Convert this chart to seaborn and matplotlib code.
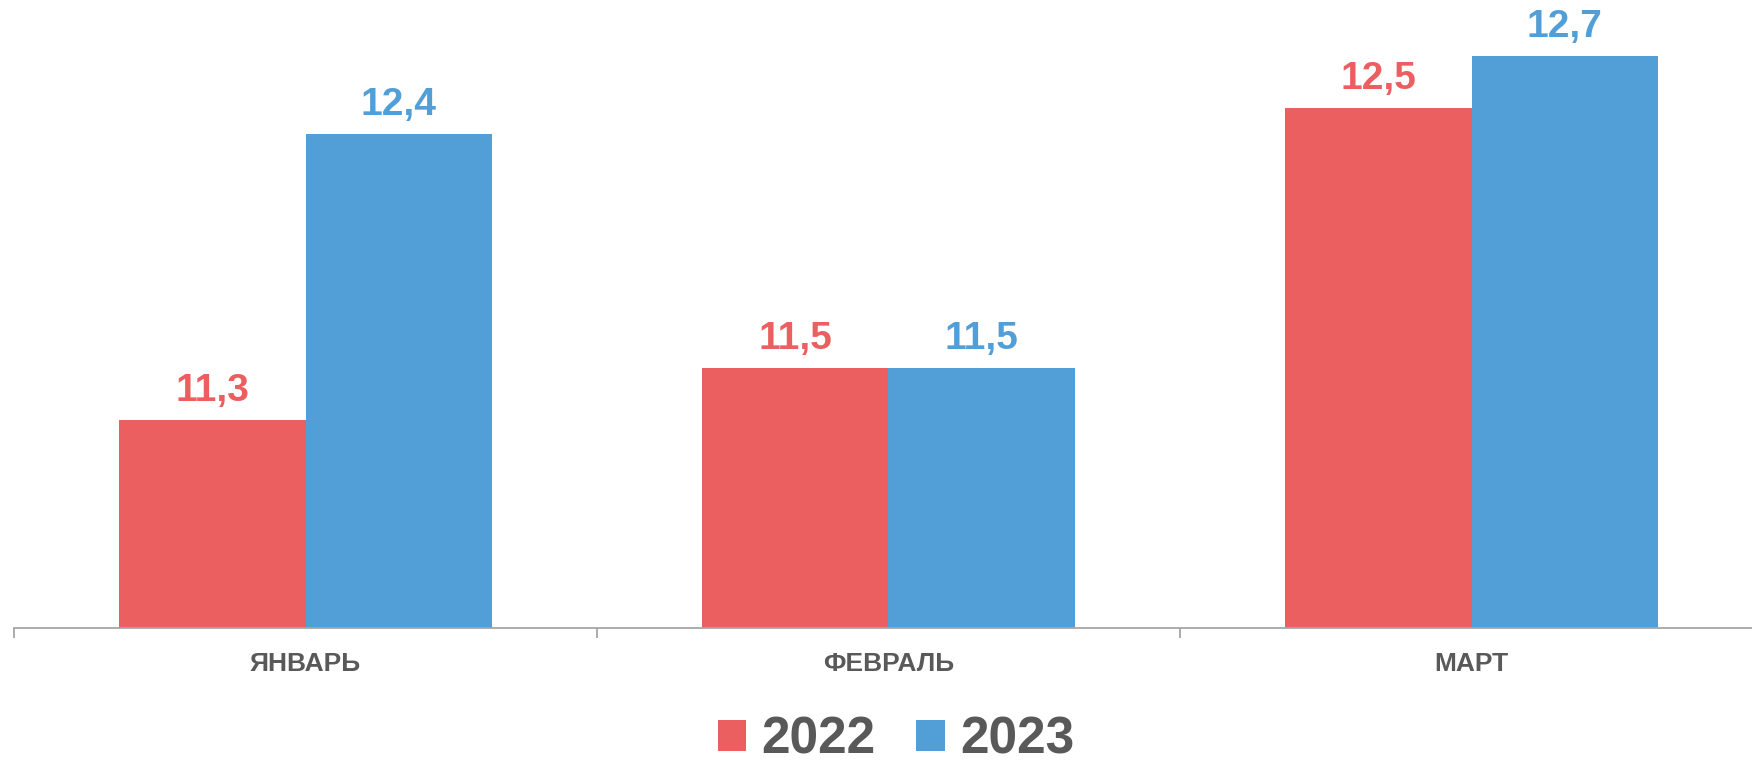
import pandas as pd
import seaborn as sns
import matplotlib.pyplot as plt
from matplotlib.patches import Patch

months = ['ЯНВАРЬ', 'ФЕВРАЛЬ', 'МАРТ']
years = ['2022', '2023']
values_2022 = [11.3, 11.5, 12.5]
values_2023 = [12.4, 11.5, 12.7]

df = pd.DataFrame({
    'month': months * 2,
    'year': [years[0]] * 3 + [years[1]] * 3,
    'value': values_2022 + values_2023,
})

palette = {'2022': '#EB5F61', '2023': '#529FD7'}
text_gray = '#595959'

sns.set_theme(style='white')
plt.rcParams['font.family'] = ['Liberation Sans', 'DejaVu Sans']

fig = plt.figure(figsize=(17.52, 7.64), dpi=100)
ax = fig.add_axes([14 / 1752, 136 / 764, 1749 / 1752, 628 / 764])

sns.barplot(data=df, x='month', y='value', hue='year', palette=palette,
            width=0.64, linewidth=0, saturation=1, legend=False, ax=ax)

ax.set_xlim(-0.5, 2.5)
ax.set_ylim(10.5, 10.5 + 628 / 260)

for cont, yr in zip(ax.containers, years):
    ax.bar_label(cont, labels=[f'{v:.1f}'.replace('.', ',') for v in cont.datavalues],
                 padding=8, fontsize=28, fontweight='bold', color=palette[yr])

for side in ['top', 'right', 'left']:
    ax.spines[side].set_visible(False)
ax.spines['bottom'].set_color('#A6A6A6')
ax.spines['bottom'].set_linewidth(1.3)
ax.set_yticks([])
ax.set_xlabel('')
ax.set_ylabel('')
ax.set_xticks([-0.5, 0.5, 1.5, 2.5], minor=True)
ax.tick_params(axis='x', which='minor', length=7, width=1.3, color='#A6A6A6', bottom=True)
ax.tick_params(axis='x', which='major', length=0, pad=17, labelsize=19, labelcolor=text_gray)
for lbl in ax.get_xticklabels():
    lbl.set_fontweight('bold')

handles = [Patch(facecolor=palette[y], edgecolor='none', label=y) for y in years]
fig.legend(handles=handles, loc='center', bbox_to_anchor=(896 / 1752, 1 - 740 / 764),
           ncol=2, frameon=False, handlelength=0.55, handleheight=0.55,
           handletextpad=0.3, columnspacing=0.8,
           prop={'size': 37, 'weight': 'bold'}, labelcolor=text_gray)

fig.savefig('out.png', dpi=100)
